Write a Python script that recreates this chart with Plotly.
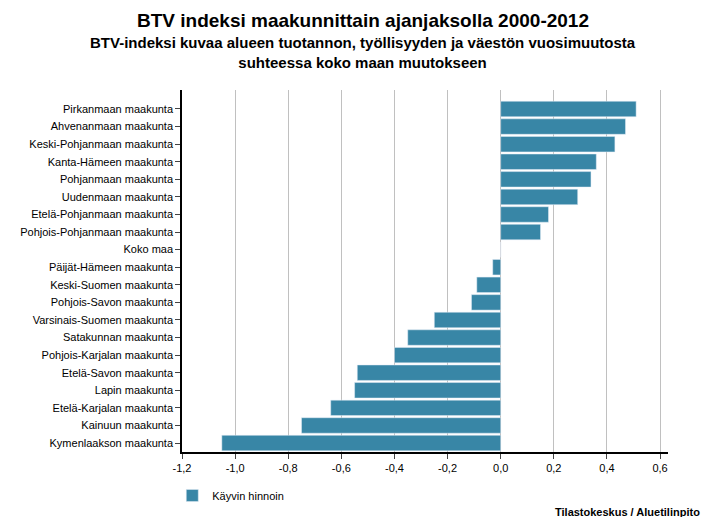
import plotly.graph_objects as go

regions = ["Pirkanmaan maakunta","Ahvenanmaan maakunta","Keski-Pohjanmaan maakunta","Kanta-Hämeen maakunta",
 "Pohjanmaan maakunta","Uudenmaan maakunta","Etelä-Pohjanmaan maakunta","Pohjois-Pohjanmaan maakunta","Koko maa",
 "Päijät-Hämeen maakunta","Keski-Suomen maakunta","Pohjois-Savon maakunta","Varsinais-Suomen maakunta",
 "Satakunnan maakunta","Pohjois-Karjalan maakunta","Etelä-Savon maakunta","Lapin maakunta",
 "Etelä-Karjalan maakunta","Kainuun maakunta","Kymenlaakson maakunta"]
values = [0.51,0.47,0.43,0.36,0.34,0.29,0.18,0.15,0.0,-0.03,-0.09,-0.11,-0.25,-0.35,-0.40,-0.54,-0.55,-0.64,-0.75,-1.05]
tickvals = [-1.2,-1.0,-0.8,-0.6,-0.4,-0.2,0,0.2,0.4,0.6]
ticktext = ["-1,2","-1,0","-0,8","-0,6","-0,4","-0,2","0,0","0,2","0,4","0,6"]

fig = go.Figure(go.Bar(x=values, y=regions, orientation="h", marker_color="#3886a6",
                       name="Käyvin hinnoin", width=0.88))
fig.update_layout(
    width=711, height=509, plot_bgcolor="white", paper_bgcolor="white",
    font=dict(family="Liberation Sans, Arial", size=11, color="black"),
    margin=dict(l=174, r=51, t=82, b=65, autoexpand=False),
    showlegend=True,
    legend=dict(x=-0.02, xanchor="left", y=-0.08, yanchor="top", font=dict(size=11)),
)
fig.add_annotation(text="<b>BTV indeksi maakunnittain ajanjaksolla 2000-2012</b>", xref="paper", yref="paper",
                   x=0.372, y=1.0, yshift=82, xanchor="center", yanchor="top", showarrow=False, font=dict(size=19))
fig.add_annotation(text="<b>BTV-indeksi kuvaa alueen tuotannon, työllisyyden ja väestön vuosimuutosta<br>suhteessa koko maan muutokseen</b>",
                   xref="paper", yref="paper", x=0.372, y=1.0, yshift=58, xanchor="center", yanchor="top",
                   showarrow=False, font=dict(size=15))
fig.update_xaxes(range=[-1.2,0.63], tickvals=tickvals, ticktext=ticktext, showgrid=True,
                 gridcolor="#c0c0c0", showline=True, linecolor="black", linewidth=1.5,
                 ticks="outside", zeroline=False)
fig.update_yaxes(range=[19.51, -1.08], showline=True, linecolor="black", linewidth=1.5,
                 ticks="outside", ticklen=5)
fig.add_annotation(text="<b>Tilastokeskus / Aluetilinpito</b>", xref="paper", yref="paper",
                   x=1.07, y=-0.145, xanchor="right", yanchor="top", showarrow=False, font=dict(size=11))
fig.write_html("out.html")
